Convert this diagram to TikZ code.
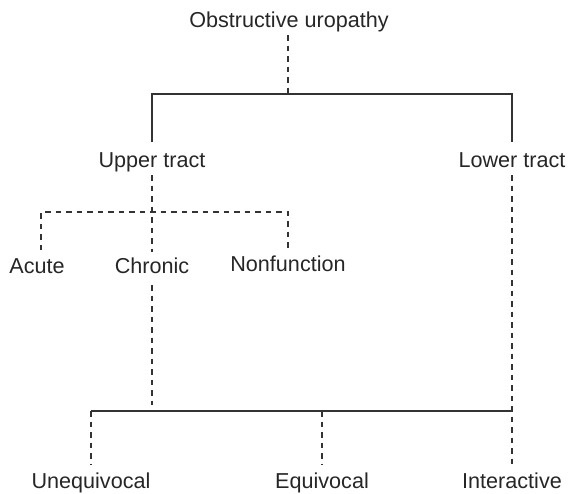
\documentclass[tikz,border=0pt]{standalone}
\usepackage{fontspec}
\setmainfont{Liberation Sans}
\begin{document}
\begin{tikzpicture}[x=1pt,y=-1pt,
  lbl/.style={inner sep=0pt,anchor=base,font=\fontsize{21.6}{25}\selectfont,text=black!85},
  solidline/.style={draw=black!80,line width=1.1pt},
  dashline/.style={draw=black!80,line width=1.1pt,dash pattern=on 5.5pt off 5pt}]
\useasboundingbox (0,0) rectangle (576,493);
% labels
\node[lbl] (ou) at (289,27) {Obstructive uropathy};
\node[lbl] (up) at (152,167) {Upper tract};
\node[lbl] (lo) at (512,167) {Lower tract};
\node[lbl] (ac) at (37,273) {Acute};
\node[lbl] (ch) at (152,273) {Chronic};
\node[lbl] (nf) at (288,271) {Nonfunction};
\node[lbl] (un) at (91,488) {Unequivocal};
\node[lbl] (eq) at (322,488) {Equivocal};
\node[lbl] (in) at (512,488) {Interactive};
% junction coordinates
\coordinate (j0) at (288,94);
\coordinate (jl) at (152,94);
\coordinate (jr) at (512,94);
\coordinate (kl) at (41,212);
\coordinate (kr) at (288,212);
\coordinate (b0) at (152,411);
\coordinate (bl) at (91,411);
\coordinate (bm) at (322,411);
\coordinate (br) at (512,411);
% top
\draw[dashline] (j0 |- 0,35) -- (j0);
\draw[solidline] (jl |- 0,142) -- (jl) -- (jr) -- (jr |- 0,142);
% upper tract branch
\draw[dashline] (kl |- 0,250) -- (kl) -- (kr) -- (kr |- 0,248);
\draw[dashline] (b0 |- 0,175) -- (b0 |- 0,252);
\draw[dashline] (b0 |- 0,285) -- (b0 |- 0,405);
% bottom bar
\draw[solidline] (bl) -- (br);
\draw[dashline] (br |- 0,175) -- (br |- 0,465);
\draw[dashline] (bl) -- (bl |- 0,465);
\draw[dashline] (bm) -- (bm |- 0,465);
\end{tikzpicture}
\end{document}
